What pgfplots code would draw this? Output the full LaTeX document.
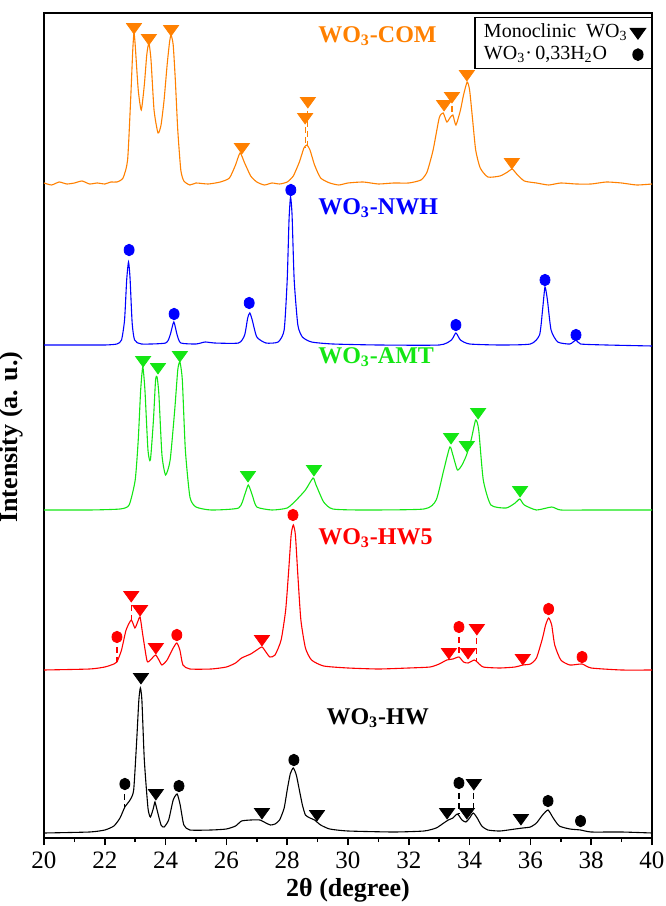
\documentclass[border=0pt]{standalone}
\usepackage{fontspec}
\setmainfont{Liberation Serif}
\usepackage{pgfplots}
\pgfplotsset{compat=1.18}
\definecolor{corange}{RGB}{255,128,0}
\definecolor{cblue}{RGB}{0,0,255}
\definecolor{cgreen}{RGB}{20,230,20}
\definecolor{cred}{RGB}{255,0,0}
\pgfplotsset{
 tri/.style={color=#1, only marks, mark=triangle*, mark size=4.3pt, mark options={rotate=180, yscale=0.8, solid, fill=#1, draw=#1}},
 dot/.style={color=#1, only marks, mark=*, mark size=2.5pt, mark options={yscale=1.15, solid, fill=#1, draw=#1}},
 dsh/.style={color=#1, densely dashed, line width=0.6pt, no marks},
 crv/.style={color=#1, line width=0.55pt, no marks, smooth, tension=0.35},
}
\tikzset{lbl/.style={text=#1, font=\fontsize{12}{14}\selectfont\bfseries, anchor=west, inner sep=0pt}}
\begin{document}
\begin{tikzpicture}
\begin{axis}[
 scale only axis, width=304pt, height=412.5pt,
 xmin=20, xmax=40, ymin=0, ymax=825,
 xtick={20,22,...,40}, minor x tick num=1,
 ytick=\empty,
 xtick pos=bottom,
 tick align=outside,
 major tick length=3.5pt, minor tick length=2pt,
 axis line style={line width=0.9pt},
 every tick/.style={black, line width=0.8pt},
 font=\fontsize{12.5}{15}\selectfont,
 tick label style={font=\fontsize{12.5}{15}\selectfont},
 /pgf/number format/assume math mode=true,
 xlabel={\textbf{2θ (degree)}}, ylabel={\textbf{Intensity (a. u.)}},
 every axis x label/.style={at={(axis description cs:0.5,-0.063)}, anchor=center, font=\fontsize{13}{15}\selectfont},
 every axis y label/.style={at={(axis description cs:-0.054,0.486)}, rotate=90, anchor=center, font=\fontsize{13}{15}\selectfont},
 legend plot pos=right,
 legend cell align=left,
 legend style={at={(1,1)}, anchor=north east, yshift=-2pt, draw=black, line width=0.6pt, font=\fontsize{10}{12}\selectfont, inner xsep=3pt, inner ysep=1.5pt, row sep=0pt, nodes={inner sep=1.5pt}},
 clip=false,
]
% legend markers (black)
\addplot[tri=black] coordinates {(23.19,161)(23.68,45)(27.17,26)(28.98,24)(33.26,26)(33.91,26)(34.14,55)(35.69,20)};
\addplot[dot=black] coordinates {(22.66,54)(24.44,52)(28.22,78)(33.65,55)(36.58,37)(37.65,17)};
\legend{{Monoclinic\ \ WO\textsubscript{3}}, {WO\textsubscript{3}·\,0{,}33H\textsubscript{2}O}}

% ---------- WO3-COM (orange)
\addplot[crv=corange, forget plot] coordinates {
(20.0,655)(20.25,653)(20.5,656)(20.75,654)(21.0,655)(21.25,657)(21.5,654)(21.75,655)(22.0,654)(22.2,656)(22.4,656)(22.6,660)(22.75,678)(22.85,738)(22.92,788)(22.96,805)(23.0,793)(23.1,748)(23.2,728)(23.3,753)(23.38,783)(23.45,795)(23.52,778)(23.62,728)(23.75,705)(23.85,713)(23.95,738)(24.05,773)(24.13,796)(24.18,803)(24.25,793)(24.32,758)(24.4,708)(24.5,668)(24.6,657)(24.8,653)(25.0,655)(25.4,654)(25.8,656)(26.1,660)(26.3,673)(26.45,685)(26.6,675)(26.8,662)(27.0,656)(27.25,653)(27.5,655)(27.75,654)(28.0,656)(28.2,662)(28.4,676)(28.55,690)(28.65,693)(28.75,688)(28.9,673)(29.1,660)(29.4,655)(29.7,653)(30.0,655)(30.5,656)(31.0,654)(31.5,655)(32.0,655)(32.4,658)(32.6,666)(32.8,688)(33.0,720)(33.13,725)(33.25,716)(33.35,720)(33.45,723)(33.55,713)(33.7,728)(33.8,743)(33.92,756)(34.0,748)(34.1,718)(34.2,688)(34.35,670)(34.6,661)(35.0,662)(35.25,666)(35.4,669)(35.55,664)(35.8,657)(36.2,655)(36.6,653)(37.0,655)(37.5,654)(38.0,654)(38.5,656)(39.0,655)(39.5,653)(40.0,654)};
\addplot[dsh=corange, forget plot] coordinates {(28.59,721)(28.59,690)};
\addplot[dsh=corange, forget plot] coordinates {(28.68,737)(28.68,693)};
\addplot[dsh=corange, forget plot] coordinates {(33.42,742)(33.42,722)};
\addplot[tri=corange, forget plot] coordinates {(22.96,811)(23.45,800)(24.18,809)(26.51,691)(28.59,721)(28.68,737)(33.16,734)(33.42,742)(33.91,764)(35.39,676)};

% ---------- WO3-NWH (blue)
\addplot[crv=cblue, forget plot] coordinates {
(20.0,493)(21.0,493)(22.0,493)(22.4,494)(22.55,498)(22.65,518)(22.72,558)(22.78,576)(22.83,560)(22.9,515)(22.98,498)(23.2,494)(24.0,495)(24.15,503)(24.27,516)(24.38,503)(24.5,495)(25.0,494)(25.3,496)(25.6,495)(26.4,495)(26.6,503)(26.7,520)(26.77,525)(26.85,518)(27.0,501)(27.3,495)(27.7,496)(27.9,508)(28.0,558)(28.06,618)(28.11,641)(28.16,623)(28.23,558)(28.35,513)(28.5,501)(28.8,496)(29.5,494)(31.0,493)(33.0,493)(33.4,498)(33.55,505)(33.7,498)(34.0,494)(35.0,493)(36.0,494)(36.3,503)(36.4,528)(36.48,551)(36.56,538)(36.68,508)(36.9,496)(37.3,494)(37.5,498)(37.65,494)(38.5,493)(40.0,492)};
\addplot[dot=cblue, forget plot] coordinates {(22.8,588)(24.28,524)(26.75,535)(28.12,648)(33.55,513)(36.48,558)(37.5,503)};

% ---------- WO3-AMT (green)
\addplot[crv=cgreen, forget plot] coordinates {
(20.0,328)(21.5,328)(22.5,329)(22.8,333)(23.0,358)(23.1,398)(23.18,448)(23.25,471)(23.32,448)(23.42,388)(23.5,378)(23.6,418)(23.67,458)(23.72,461)(23.78,443)(23.88,383)(24.0,363)(24.15,378)(24.3,428)(24.4,468)(24.47,476)(24.55,458)(24.65,388)(24.8,341)(25.0,331)(25.5,328)(26.4,330)(26.6,343)(26.72,353)(26.85,343)(27.0,331)(27.5,328)(28.0,330)(28.3,338)(28.6,348)(28.85,360)(28.95,353)(29.2,336)(29.5,329)(30.5,328)(32.5,329)(32.9,338)(33.15,368)(33.35,391)(33.45,383)(33.6,368)(33.75,373)(33.9,383)(34.05,398)(34.2,418)(34.3,408)(34.45,358)(34.7,333)(35.2,330)(35.5,335)(35.65,339)(35.8,333)(36.2,328)(36.7,331)(37.0,328)(38.0,328)(40.0,328)};
\addplot[tri=cgreen, forget plot] coordinates {(23.26,478)(23.75,471)(24.47,483)(26.71,363)(28.88,369)(33.39,401)(33.91,393)(34.28,426)(35.66,348)};

% ---------- WO3-HW5 (red)
\addplot[crv=cred, forget plot] coordinates {
(20.0,168)(21.5,169)(22.0,171)(22.3,174)(22.4,176)(22.55,188)(22.7,208)(22.87,218)(22.99,210)(23.08,216)(23.16,221)(23.25,203)(23.39,177)(23.5,178)(23.62,182)(23.68,183)(23.78,178)(23.88,173)(24.05,178)(24.25,190)(24.37,195)(24.47,188)(24.57,173)(24.8,169)(25.5,169)(26.0,171)(26.3,175)(26.5,180)(26.8,184)(27.0,188)(27.17,191)(27.3,186)(27.43,181)(27.6,183)(27.8,198)(27.95,228)(28.05,268)(28.13,303)(28.2,313)(28.27,303)(28.35,263)(28.45,218)(28.6,190)(28.8,178)(29.2,172)(30.0,170)(31.0,169)(32.0,170)(32.7,171)(33.0,174)(33.25,178)(33.45,179)(33.65,181)(33.8,176)(33.95,175)(34.15,178)(34.25,176)(34.45,171)(35.0,170)(35.5,171)(35.75,173)(36.0,174)(36.2,180)(36.4,200)(36.5,213)(36.6,220)(36.7,213)(36.8,193)(37.0,178)(37.3,173)(37.7,174)(38.0,170)(39.0,168)(40.0,168)};
\addplot[dsh=cred, forget plot] coordinates {(22.87,243)(22.87,218)};
\addplot[dsh=cred, forget plot] coordinates {(22.4,201)(22.4,176)};
\addplot[dsh=cred, forget plot] coordinates {(33.65,211)(33.65,181)};
\addplot[dsh=cred, forget plot] coordinates {(34.24,210)(34.24,177)};
\addplot[tri=cred, forget plot] coordinates {(22.87,243)(23.16,229)(23.68,191)(27.17,199)(33.32,186)(33.95,186)(34.24,210)(35.75,180)};
\addplot[dot=cred, forget plot] coordinates {(22.4,201)(24.37,203)(28.19,323)(33.65,211)(36.6,229)(37.7,181)};

% ---------- WO3-HW (black)
\addplot[crv=black, forget plot] coordinates {
(20.0,5)(21.5,6)(22.0,8)(22.3,12)(22.5,20)(22.66,31)(22.83,38)(22.95,48)(23.05,98)(23.12,138)(23.17,150)(23.22,138)(23.3,78)(23.42,30)(23.5,21)(23.6,30)(23.65,36)(23.72,28)(23.85,13)(23.95,11)(24.1,18)(24.25,38)(24.38,44)(24.48,33)(24.6,13)(24.8,8)(25.5,8)(26.0,9)(26.3,12)(26.5,17)(26.8,18)(27.1,18)(27.3,15)(27.45,13)(27.6,14)(27.75,18)(27.9,30)(28.0,48)(28.1,64)(28.2,70)(28.3,63)(28.4,48)(28.5,33)(28.6,23)(28.75,20)(28.9,18)(29.1,13)(29.4,9)(30.0,7)(31.5,6)(32.5,7)(32.9,10)(33.15,15)(33.3,18)(33.45,20)(33.6,24)(33.75,18)(33.88,16)(34.0,20)(34.12,25)(34.25,20)(34.4,12)(34.6,8)(35.0,7)(35.5,9)(35.75,10)(36.0,11)(36.2,15)(36.4,23)(36.58,28)(36.75,20)(36.95,12)(37.3,9)(37.65,8)(38.0,6)(39.0,6)(40.0,5)};
\addplot[dsh=black, forget plot] coordinates {(22.66,54)(22.66,31)};
\addplot[dsh=black, forget plot] coordinates {(33.65,55)(33.65,24)};
\addplot[dsh=black, forget plot] coordinates {(34.14,55)(34.14,25)};

% labels
\node[lbl=corange] at (axis cs:29.01,802) {WO\textsubscript{3}-COM};
\node[lbl=cblue] at (axis cs:29.01,630) {WO\textsubscript{3}-NWH};
\node[lbl=cgreen] at (axis cs:29.01,481) {WO\textsubscript{3}-AMT};
\node[lbl=cred] at (axis cs:29.01,300) {WO\textsubscript{3}-HW5};
\node[lbl=black] at (axis cs:29.28,120) {WO\textsubscript{3}-HW};
\end{axis}
\pgfresetboundingbox
\path ([shift={(-22pt,-34pt)}]current axis.south west) rectangle ([shift={(6.5pt,6.5pt)}]current axis.north east);
\end{tikzpicture}
\end{document}
